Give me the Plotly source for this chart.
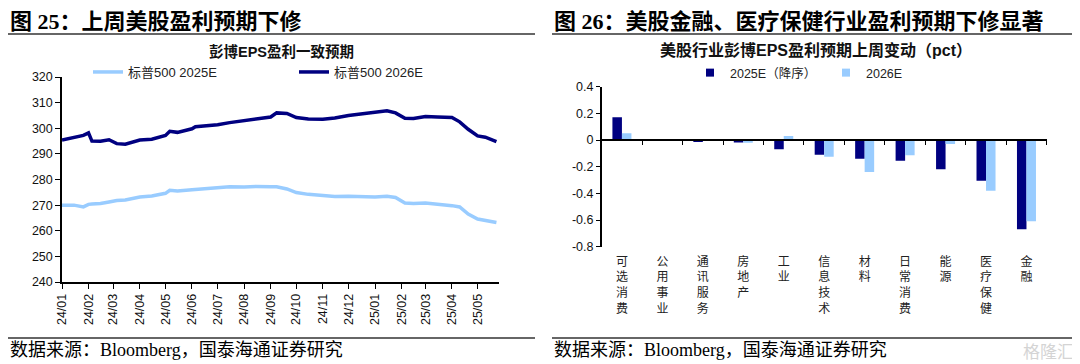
import plotly.graph_objects as go

# ---------------- Data: left chart (Bloomberg EPS consensus) ----------------
dates = ["2024-01-01","2024-01-15","2024-01-26","2024-02-01","2024-02-05","2024-02-15","2024-02-25",
         "2024-03-05","2024-03-15","2024-04-01","2024-04-15","2024-05-01","2024-05-06","2024-05-15",
         "2024-06-01","2024-06-05","2024-06-15","2024-07-01","2024-07-15","2024-08-01","2024-08-15",
         "2024-09-01","2024-09-08","2024-09-20","2024-10-01","2024-10-15","2024-11-01","2024-11-15",
         "2024-12-01","2024-12-15","2025-01-01","2025-01-15","2025-01-25","2025-02-05","2025-02-15",
         "2025-03-01","2025-03-15","2025-04-01","2025-04-10","2025-04-20","2025-05-01","2025-05-10",
         "2025-05-23"]
eps_2025e = [270.0,270.0,269.3,270.3,270.4,270.6,271.2,
             271.8,272.0,273.2,273.6,274.6,275.8,275.5,
             276.0,276.1,276.3,277.0,277.2,277.1,277.3,
             277.2,277.2,276.3,274.9,274.2,273.8,273.4,
             273.5,273.3,273.2,273.5,273.0,270.8,270.6,
             270.8,270.5,269.8,269.3,266.5,264.6,264.0,
             263.2]
eps_2026e = [295.4,296.3,297.2,298.2,295.0,294.9,295.5,
             294.0,293.8,295.4,295.7,297.2,298.8,298.4,
             299.8,300.6,300.9,301.4,302.2,303.0,303.6,
             304.4,306.0,305.8,304.2,303.6,303.5,304.0,
             305.0,305.5,306.3,306.8,306.0,303.9,303.8,
             304.6,304.4,304.2,302.5,299.6,297.0,296.5,
             294.8]
left_names = ["标普500 2025E", "标普500 2026E"]

# ---------------- Data: right chart (sector EPS revisions, pct) ----------------
sectors = ["可选消费","公用事业","通讯服务","房地产","工业","信息技术","材料","日常消费","能源","医疗保健","金融"]
chg_2025e = [0.17, 0.00, -0.015, -0.018, -0.07, -0.11, -0.14, -0.155, -0.22, -0.305, -0.67]
chg_2026e = [0.05, 0.00, 0.00, -0.02, 0.03, -0.125, -0.24, -0.115, -0.03, -0.38, -0.61]
right_names = ["2025E（降序）", "2026E"]
y2_ticks = [0.4, 0.2, 0, -0.2, -0.4, -0.6, -0.8]
y2_ticktext = ["0.4", "0.2", "0", "-0.2", "-0.4", "-0.6", "-0.8"]

DARK = "#000080"
LIGHT = "#99CCFF"
OFF = 8  # the page body adds an 8px margin; the figure is drawn from (8, 8)
W, H = 1080 - OFF, 364 - OFF
SANS = "Liberation Sans, Arial, Noto Sans CJK SC"
SERIF = "Liberation Serif, Noto Sans CJK SC"

def px(x):
    return (x - OFF) / W

def py(y):
    return 1 - (y - OFF) / H

fig = go.Figure()

# left lines
fig.add_trace(go.Scatter(x=dates, y=eps_2025e, mode="lines", name=left_names[0],
                         line=dict(color=LIGHT, width=3.5), xaxis="x", yaxis="y", legend="legend"))
fig.add_trace(go.Scatter(x=dates, y=eps_2026e, mode="lines", name=left_names[1],
                         line=dict(color=DARK, width=3.5), xaxis="x", yaxis="y", legend="legend"))

# right bars
fig.add_trace(go.Bar(x=sectors, y=chg_2025e, name=right_names[0], marker=dict(color=DARK, line=dict(width=0)),
                     xaxis="x2", yaxis="y2", showlegend=False))
fig.add_trace(go.Bar(x=sectors, y=chg_2026e, name=right_names[1], marker=dict(color=LIGHT, line=dict(width=0)),
                     xaxis="x2", yaxis="y2", showlegend=False))
# legend entries (small squares)
fig.add_trace(go.Scatter(x=[None], y=[None], mode="markers", name=right_names[0],
                         marker=dict(symbol="square", size=8, color=DARK), xaxis="x2", yaxis="y2", legend="legend2"))
fig.add_trace(go.Scatter(x=[None], y=[None], mode="markers", name=right_names[1],
                         marker=dict(symbol="square", size=8, color=LIGHT), xaxis="x2", yaxis="y2", legend="legend2"))
# helper trace so the zero-line overlay axis exists
fig.add_trace(go.Scatter(x=[None], y=[None], mode="markers", xaxis="x3", yaxis="y2",
                         showlegend=False, hoverinfo="skip"))

tickfont = dict(family=SANS, size=12.5, color="#111")

fig.update_layout(
    width=W, height=H,
    margin=dict(l=0, r=0, t=0, b=0, autoexpand=False),
    paper_bgcolor="white", plot_bgcolor="white",
    bargap=0.53, bargroupgap=0, barmode="group",
    xaxis=dict(domain=[px(62), px(499)], anchor="y", type="date",
               range=["2024-01-01", "2025-05-26"], tick0="2024-01-01", dtick="M1",
               tickformat="%y/%m", tickangle=-90, ticks="outside", ticklen=5, tickcolor="black",
               showline=True, linecolor="black", linewidth=1.5, showgrid=False, zeroline=False,
               tickfont=tickfont),
    yaxis=dict(domain=[py(282), py(77)], anchor="x", range=[240, 320], dtick=10,
               ticks="outside", ticklen=5, tickcolor="black",
               showline=True, linecolor="black", linewidth=1.5, showgrid=False, zeroline=False,
               tickfont=tickfont),
    xaxis2=dict(domain=[px(601.7), px(1046.7)], anchor="y2", type="category",
                range=[-0.5, 10.5], tickvals=sectors, ticktext=["<br>".join(s) for s in sectors],
                ticks="", showline=False, showgrid=False, zeroline=False,
                ticklabelstandoff=6,
                tickfont=dict(family="Noto Sans CJK SC", size=12, color="#222")),
    xaxis3=dict(overlaying="x2", anchor="free", position=py(140), range=[-0.5, 10.5],
                tickvals=[i - 0.5 for i in range(12)], ticks="outside", ticklen=4, tickcolor="black",
                showticklabels=False, showline=True, linecolor="black", linewidth=1.5,
                showgrid=False, zeroline=False),
    yaxis2=dict(domain=[py(246.7), py(86.7)], anchor="x2", range=[-0.8, 0.4],
                tickvals=y2_ticks, ticktext=y2_ticktext,
                ticks="outside", ticklen=4, tickcolor="black",
                showline=True, linecolor="black", linewidth=1.5, showgrid=False, zeroline=False,
                tickfont=tickfont),
    legend=dict(orientation="h", x=px(88), y=py(72), xanchor="left", yanchor="middle",
                entrywidth=161, entrywidthmode="pixels", bgcolor="rgba(0,0,0,0)",
                font=dict(family=SANS, size=13, color="#222"), itemwidth=30),
    legend2=dict(orientation="h", x=px(690), y=py(73), xanchor="left", yanchor="middle",
                 entrywidth=91, entrywidthmode="pixels", bgcolor="rgba(0,0,0,0)",
                 font=dict(family=SANS, size=12.5, color="#222"), itemwidth=30),
    showlegend=True,
)

annotations = [
    dict(text="<b>图 25：上周美股盈利预期下修</b>", x=px(8), y=py(21), xanchor="left", yanchor="middle",
         font=dict(family=SERIF, size=22, color="black")),
    dict(text="<b>图 26：美股金融、医疗保健行业盈利预期下修显著</b>", x=px(552), y=py(21), xanchor="left", yanchor="middle",
         font=dict(family=SERIF, size=22, color="black")),
    dict(text="<b>彭博EPS盈利一致预期</b>", x=px(281), y=py(52), xanchor="center", yanchor="middle",
         font=dict(family=SANS, size=14.5, color="#111")),
    dict(text="<b>美股行业彭博EPS盈利预期上周变动（pct）</b>", x=px(816), y=py(50), xanchor="center", yanchor="middle",
         font=dict(family=SANS, size=16, color="#111")),
    dict(text="数据来源：Bloomberg，国泰海通证券研究", x=px(8), y=py(350), xanchor="left", yanchor="middle",
         font=dict(family=SERIF, size=18, color="black")),
    dict(text="数据来源：Bloomberg，国泰海通证券研究", x=px(552), y=py(350), xanchor="left", yanchor="middle",
         font=dict(family=SERIF, size=18, color="black")),
    dict(text="格隆汇", x=px(1076), y=py(350), xanchor="right", yanchor="middle",
         font=dict(family="Noto Sans CJK SC", size=17, color="#d4d4d4")),
]
for a in annotations:
    a.update(xref="paper", yref="paper", showarrow=False)
fig.update_layout(annotations=annotations)

shapes = []
for (x0, x1) in [(8, 535), (552, 1076)]:
    for yy in [34, 338]:
        shapes.append(dict(type="line", xref="paper", yref="paper", x0=px(x0), x1=px(x1),
                           y0=py(yy), y1=py(yy), line=dict(color="#333", width=1.5)))
fig.update_layout(shapes=shapes)

fig.write_html("out.html")
